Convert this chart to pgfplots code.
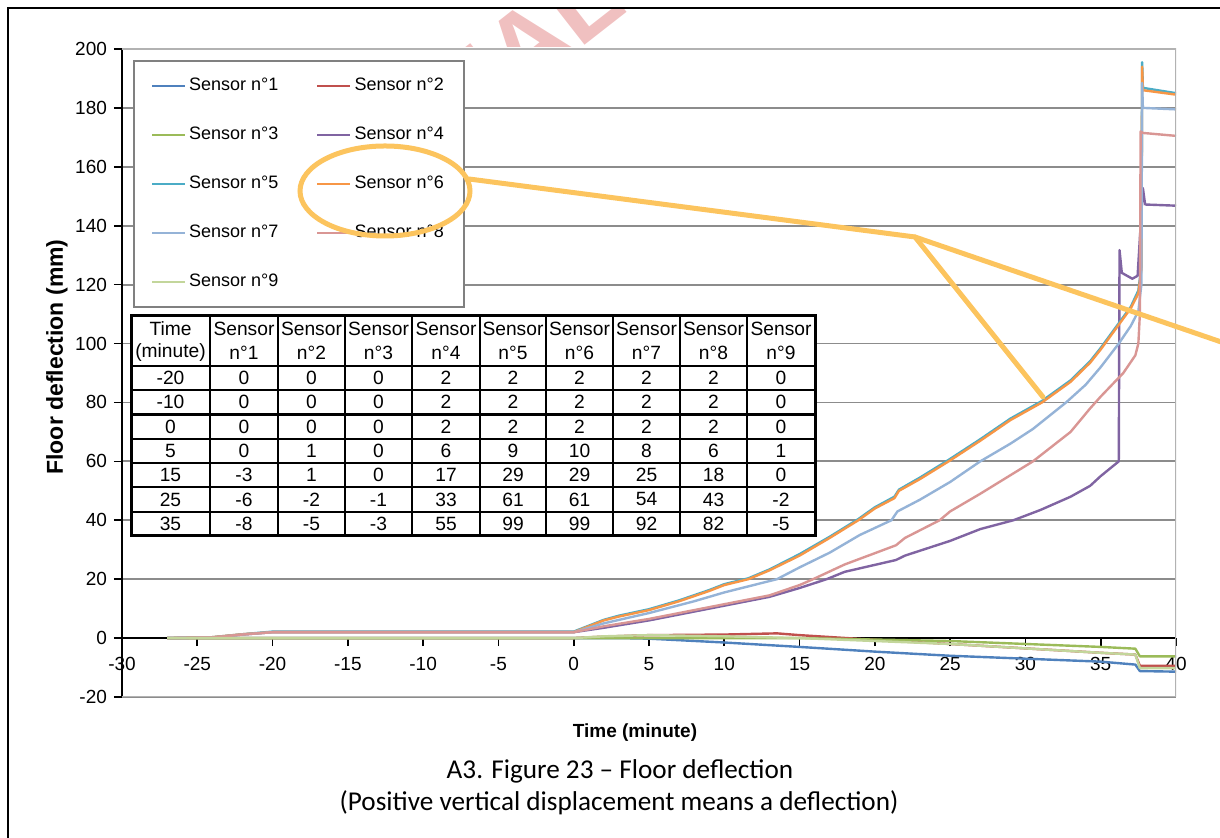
\documentclass[border=0pt]{standalone}
\usepackage{pgfplots}
\pgfplotsset{compat=1.18}
\usepackage{fontspec}
\setmainfont{Liberation Sans}
\newfontfamily\calibri{Carlito}
\definecolor{sA}{HTML}{4F81BD}
\definecolor{sB}{HTML}{C0504D}
\definecolor{sC}{HTML}{9BBB59}
\definecolor{sD}{HTML}{8064A2}
\definecolor{sE}{HTML}{4BACC6}
\definecolor{sF}{HTML}{F79646}
\definecolor{sG}{HTML}{95B3D7}
\definecolor{sH}{HTML}{D99694}
\definecolor{sI}{HTML}{C3D69B}
\definecolor{callout}{HTML}{FCC45E}
\definecolor{wmark}{HTML}{F0C0C0}
\begin{document}
\begin{tikzpicture}
\path[use as bounding box] (0,0) rectangle (610pt,419pt);
% watermark fragment
\begin{scope}[x=0.5pt,y=-0.5pt,yshift=419pt]
\clip (400,9) rectangle (720,47);
\node[rotate=38, anchor=base east, inner sep=0pt, text=wmark, font=\fontsize{52}{52}\selectfont\bfseries] at (630,10) {CONFIDENTIAL};
\end{scope}
\begin{axis}[
  at={(61pt,70.5pt)}, anchor=south west,
  scale only axis, width=527pt, height=324pt,
  xmin=-30, xmax=40, ymin=-20, ymax=200,
  axis x line=middle, axis y line=left,
  axis line style={-, black, line width=0.9pt},
  hide obscured x ticks=false, hide obscured y ticks=false,
  xtick={-30,-25,...,40}, ytick={-20,0,...,200},
  tick align=outside, major tick length=4pt,
  tick style={black, line width=0.8pt},
  ymajorgrids, grid style={black!45, line width=0.9pt},
  tick label style={font=\fontsize{9.5}{10}\selectfont},
  xticklabel style={yshift=-2pt},
  /pgf/number format/assume math mode=true,
  legend columns=2,
  legend cell align=left,
  legend image code/.code={\draw[#1, line width=1.1pt] (0pt,0pt) -- (16.5pt,0pt);},
  legend style={at={(0.01044,0.983)}, anchor=north west, draw=black!50, line width=0.9pt,
    fill=white, inner xsep=8.5pt, inner ysep=8pt, row sep=15.5pt,
    font=\fontsize{9}{10}\selectfont,
    nodes={inner xsep=1.5pt, inner ysep=0pt, text height=7pt, text depth=2pt},
    /tikz/every even column/.append style={column sep=17.5pt}},
  every axis plot/.append style={line width=1.2pt, line join=round},
]
\addplot[sA] coordinates {(-27,0) (-5,0) (0,0) (3,0) (5,-0.2) (10,-1.5) (15,-3) (20,-4.6) (25,-6) (30,-7) (35,-8) (37.3,-9) (37.6,-11.2) (40,-11.4)};
\addlegendentry{Sensor n°1}
\addplot[sB] coordinates {(-27,0) (0,0) (2,0.5) (5,1) (10,1.2) (13.5,1.6) (15,1) (20,-0.6) (25,-2) (30,-3.5) (35,-5) (37.3,-5.6) (37.6,-9.4) (40,-9.4)};
\addlegendentry{Sensor n°2}
\addplot[sC] coordinates {(-27,0) (0,0) (5,0) (15,0) (20,-0.5) (25,-1) (30,-2) (35,-3) (37.3,-3.6) (37.6,-6.2) (40,-6.2)};
\addlegendentry{Sensor n°3}
\addplot[sD] coordinates {(-27,0) (-24,0.2) (-22,1.2) (-20,2) (0,2) (2,3.5) (5,6) (8,9) (10,11) (13,14) (15,17) (16.8,20) (18,22.5) (21.4,26.5) (22,28) (25,33) (27,37) (29.2,40) (31,43.5) (33,48) (34.3,51.7) (35,55) (36.2,60) (36.25,131.7) (36.4,124) (37.1,122) (37.45,123) (37.8,152.8) (37.95,147.2) (40,146.8)};
\addlegendentry{Sensor n°4}
\addplot[sE] coordinates {(-27,0) (-24,0.3) (-22,1.3) (-20,2.2) (0,2.2) (1,4.2) (2,6.2) (3,7.6) (5,9.8) (7,12.8) (9,16.3) (10,18.3) (11.6,20.3) (13,23.3) (15,28.5) (17,34.4) (18.9,40.4) (20,44.4) (21.3,48) (21.6,50.4) (23,54.5) (24.9,60.5) (27,67.5) (29,74.5) (31.1,80.5) (33,87.5) (34.3,94) (35,98.5) (36,105.5) (37,112.5) (37.5,118) (37.7,126) (37.75,195.5) (37.8,186.8) (40,185)};
\addlegendentry{Sensor n°5}
\addplot[sF] coordinates {(-27,0) (-24,0.3) (-22,1.3) (-20,2) (0,2) (1,4) (2,6) (3,7.3) (5,9.5) (7,12.5) (9,16) (10,18) (11.6,20) (13,23) (15,28) (17,34) (18.9,40) (20,44) (21.3,47.5) (21.6,50) (23,54) (24.9,60) (27,67) (29,74) (31.1,80) (33,87) (34.3,93.5) (35,98) (36,105) (37,112) (37.5,117) (37.7,125) (37.75,194) (37.8,186) (40,184.5)};
\addlegendentry{Sensor n°6}
\addplot[sG] coordinates {(-27,0) (-24,0.2) (-22,1.2) (-20,2) (0,2) (2,5) (5,8.5) (8,12.5) (10,15.5) (13.5,20) (15,24) (17,29) (19,35) (21.1,40) (21.5,43) (23,47) (25,53) (27,60) (29,66) (30.5,71) (32.7,80) (34,86) (35,92) (36.2,100) (37,106) (37.5,111) (37.7,120) (37.75,188.5) (37.8,180) (40,179.5)};
\addlegendentry{Sensor n°7}
\addplot[sH] coordinates {(-27,0) (-24,0.2) (-22,1.2) (-20,2) (0,2) (2,4) (5,6.5) (8,9.5) (10,11.5) (13,14.5) (15,18) (15.9,20) (18,25) (21.4,31.5) (22,34) (24.3,40) (25,43) (27,49) (30.5,60) (33,70) (34.3,78) (35,82) (36.5,90) (37.3,96) (37.5,100) (37.6,110) (37.65,172) (37.8,171.5) (40,170.5)};
\addlegendentry{Sensor n°8}
\addplot[sI] coordinates {(-27,0) (0,0) (2,0.6) (5,1) (10,0.6) (15,0) (20,-1) (25,-2) (30,-3.5) (35,-5) (37.3,-5.6) (37.6,-10.2) (40,-10.2)};
\addlegendentry{Sensor n°9}
\draw[black!30, line width=1.2pt] (rel axis cs:0,1) -- (rel axis cs:1,1) -- (rel axis cs:1,0) -- (rel axis cs:0,0);
\end{axis}
\begin{scope}[x=0.5pt,y=-0.5pt,yshift=419pt]
% outer frame
\draw[line width=1.2pt] (8,840) -- (8,8) -- (1222,8);
% table
\fill[white] (131,316) rectangle (815,536);
\foreach \xx in {210,278,345,412,480,546,613,680,747} \draw[line width=1.3pt] (\xx,316) -- (\xx,536);
\foreach \yy in {366,390,414.5,439,463,487,512} \draw[line width=1.3pt] (131,\yy) -- (815,\yy);
\draw[line width=1.5pt] (131,316) rectangle (815,536);
\def\xs{{170.5,244,311.5,378.5,446,513,579.5,646.5,713.5,781}}
\begin{scope}[every node/.style={font=\fontsize{9.6}{10}\selectfont, inner sep=0pt}]
\node at (170.5,329) {Time};
\node at (170.5,353) {(minute)};
\foreach \c in {1,...,9} {
  \pgfmathsetmacro\xc{\xs[\c]}
  \node at (\xc,329) {Sensor};
  \node at (\xc,353) {n°\c};
}
\foreach \row [count=\r from 0] in {{-20,0,0,0,2,2,2,2,2,0},{-10,0,0,0,2,2,2,2,2,0},{0,0,0,0,2,2,2,2,2,0},{5,0,1,0,6,9,10,8,6,1},{15,-3,1,0,17,29,29,25,18,0},{25,-6,-2,-1,33,61,61,54,43,-2},{35,-8,-5,-3,55,99,99,92,82,-5}} {
  \foreach \v [count=\c from 0] in \row {
    \pgfmathsetmacro\xc{\xs[\c]}
    \pgfmathsetmacro\yc{378+24.3*\r}
    \node at (\xc,\yc) {\v};
  }
}
\end{scope}
% callout
\draw[callout, line width=2.5pt] (385,191) ellipse [x radius=42.5pt, y radius=22.5pt];
\draw[callout, line width=2.5pt, line join=round, line cap=round] (469,179) -- (915,237) -- (1043,397);
\draw[callout, line width=2.5pt, line cap=round] (915,237) -- (1230,345);
% labels
\node[font=\fontsize{9.5}{10}\selectfont\bfseries] at (635,733) {Time (minute)};
\node[rotate=90, font=\fontsize{11.5}{12}\selectfont\bfseries] at (57,357) {Floor deflection (mm)};
\node[font=\calibri\fontsize{13.6}{15}\selectfont] at (620,771) {A3. Figure 23 – Floor deflection};
\node[font=\calibri\fontsize{13.6}{15}\selectfont] at (619,803) {(Positive vertical displacement means a deflection)};
\end{scope}
\end{tikzpicture}
\end{document}
